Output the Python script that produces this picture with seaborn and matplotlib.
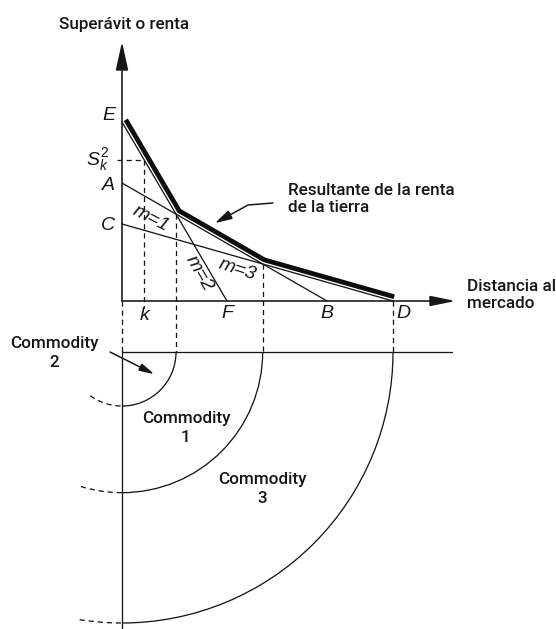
import numpy as np
import pandas as pd
import matplotlib
matplotlib.use("Agg")
import matplotlib.pyplot as plt
from matplotlib.patches import Polygon, Arc
import seaborn as sns

# Bid-rent lines: rent at the market (intercept) and the distance where rent falls to zero
commodities = ["m=1", "m=2", "m=3"]
rent_at_market = [118, 179, 77]      # A, E, C
zero_rent_distance = [205, 105, 271]  # B, F, D
intercept_labels = ["A", "E", "C"]
distance_labels = ["B", "F", "D"]
k_distance = 22

sns.set_theme(style="white")
plt.rcParams["font.family"] = ["Roboto", "DejaVu Sans"]
plt.rcParams["mathtext.fontset"] = "custom"
plt.rcParams["mathtext.it"] = "Liberation Sans:italic"
plt.rcParams["mathtext.rm"] = "Liberation Sans"

W, H = 556, 629
fig = plt.figure(figsize=(W / 100, H / 100), dpi=100)
ax = fig.add_axes([0, 0, 1, 1])
ax.set_xlim(-122, W - 122)
ax.set_ylim(-(H - 301), 301)
ax.axis("off")

PT = 72 / 100  # points per pixel
thin = 1.3 * PT
ink = "#161616"
ital = dict(family="Liberation Sans", style="italic", color=ink)

# rent lines
rows = []
for name, a, b in zip(commodities, rent_at_market, zero_rent_distance):
    rows.append({"line": name, "dist": 0, "rent": a})
    rows.append({"line": name, "dist": b, "rent": 0})
df = pd.DataFrame(rows)
sns.lineplot(data=df, x="dist", y="rent", hue="line", palette=[ink] * 3,
             sort=False, legend=False, linewidth=thin, ax=ax)

slopes = {n: -a / b for n, a, b in zip(commodities, rent_at_market, zero_rent_distance)}
icpt = dict(zip(commodities, rent_at_market))


def cross(n1, n2):
    x = (icpt[n2] - icpt[n1]) / (slopes[n1] - slopes[n2])
    return x, icpt[n1] + slopes[n1] * x


x12, y12 = cross("m=2", "m=1")
x13, y13 = cross("m=1", "m=3")
env_x = np.array([0, x12, x13, zero_rent_distance[2]], float)
env_y = np.array([rent_at_market[1], y12, y13, 0], float)


def offset_polyline(xs, ys, d):
    segs = []
    for i in range(len(xs) - 1):
        dx, dy = xs[i + 1] - xs[i], ys[i + 1] - ys[i]
        L = np.hypot(dx, dy)
        nx, ny = -dy / L * d, dx / L * d
        segs.append(((xs[i] + nx, ys[i] + ny), (xs[i + 1] + nx, ys[i + 1] + ny)))
    out = [segs[0][0]]
    for s1, s2 in zip(segs[:-1], segs[1:]):
        (x1, y1), (x2, y2) = s1
        (x3, y3), (x4, y4) = s2
        den = (x1 - x2) * (y3 - y4) - (y1 - y2) * (x3 - x4)
        t = ((x1 - x3) * (y3 - y4) - (y1 - y3) * (x3 - x4)) / den
        out.append((x1 + t * (x2 - x1), y1 + t * (y2 - y1)))
    out.append(segs[-1][1])
    return np.array(out)


band = offset_polyline(env_x, env_y, 4.4)
ax.plot(band[:, 0], band[:, 1], color="#0d0d0d", lw=4.8 * PT,
        solid_capstyle="butt", solid_joinstyle="miter")

# axes with arrowheads
ax.plot([0, 0], [0, 240], color=ink, lw=1.6 * PT)
ax.add_patch(Polygon([[0, 256], [-5.5, 231], [5.5, 231]], closed=True, color=ink))
ax.plot([0, 315], [0, 0], color=ink, lw=1.6 * PT)
ax.add_patch(Polygon([[330, 0], [308, 4.5], [308, -4.5]], closed=True, color=ink))

dash = dict(color=ink, lw=thin, linestyle=(0, (4, 3)))
ring_y = -51
# dashed guides down to the ring diagram
ax.plot([0, 0], [0, ring_y], **dash)
ax.plot([x12, x12], [y12, ring_y], **dash)
ax.plot([x13, x13], [y13, ring_y], **dash)
ax.plot([zero_rent_distance[2]] * 2, [0, ring_y], **dash)
s_k = rent_at_market[1] + slopes["m=2"] * k_distance
ax.plot([k_distance, k_distance], [s_k, -7], **dash)
ax.plot([-5, k_distance], [s_k, s_k], **dash)

# ring diagram
ax.plot([0, 330], [ring_y, ring_y], color=ink, lw=thin)
ax.plot([0, 0], [ring_y, -(H - 301)], color=ink, lw=thin)
for r, ext in zip([x12, x13, zero_rent_distance[2]], [36, 17, 9]):
    ax.add_patch(Arc((0, ring_y), 2 * r, 2 * r, theta1=270, theta2=360,
                     color=ink, lw=thin))
    ax.add_patch(Arc((0, ring_y), 2 * r, 2 * r, theta1=270 - ext, theta2=270,
                     color=ink, lw=thin, linestyle=(0, (4, 3))))


def arrow(pts, hl=12, hw=7):
    pts = np.asarray(pts, float)
    tip = pts[-1]
    v = tip - pts[-2]
    v /= np.hypot(*v)
    n = np.array([-v[1], v[0]])
    base = tip - v * hl
    ax.plot(np.r_[pts[:-1, 0], base[0]], np.r_[pts[:-1, 1], base[1]],
            color=ink, lw=1.5 * PT)
    ax.add_patch(Polygon([tip, base + n * hw / 2, base - n * hw / 2],
                         closed=True, color=ink))


arrow([[151, 98], [126, 96], [95, 79]], hl=15, hw=8)
arrow([[-12, -51], [30, -72]], hl=13, hw=6.5)

# text
fs = 12.3
tw = dict(fontsize=fs, fontweight="medium", color=ink)
ax.text(2, 276, "Superávit o renta", ha="center", va="center", **tw)
ax.text(166, 102, "Resultante de la renta\nde la tierra", ha="left", va="center",
        linespacing=1.15, **tw)
ax.text(345, 6, "Distancia al\nmercado", ha="left", va="center", linespacing=1.15, **tw)
ax.text(-68, -52, "Commodity\n2", ha="center", va="center", linespacing=1.3, **tw)
ax.text(64, -127, "Commodity\n1", ha="center", va="center", linespacing=1.3, **tw)
ax.text(140, -188, "Commodity\n3", ha="center", va="center", linespacing=1.3, **tw)

lfs = 14
for lab, a in zip(intercept_labels, rent_at_market):
    ax.text(-7, a + 6 if lab == "E" else a - 2, lab, ha="right", va="center",
            fontsize=lfs, **ital)
ax.text(-13, s_k, r"$S_k^2$", ha="right", va="center", fontsize=lfs, color=ink)
for lab, b in zip(distance_labels, zero_rent_distance):
    ax.text(b + (10 if lab == "D" else 0), -13, lab, ha="center", va="center",
            fontsize=lfs, **ital)
ax.text(k_distance + 1, -14, "k", ha="center", va="center", fontsize=lfs, **ital)

mfs = 14
ax.text(29, 82, "m=1", rotation=-27, ha="center", va="center",
        rotation_mode="anchor", fontsize=mfs, **ital)
ax.text(77, 28, "m=2", rotation=-60, ha="center", va="center",
        rotation_mode="anchor", fontsize=mfs, **ital)
ax.text(115, 31, "m=3", rotation=-18, ha="center", va="center",
        rotation_mode="anchor", fontsize=mfs, **ital)

fig.savefig("out.png", dpi=100, facecolor="white")
